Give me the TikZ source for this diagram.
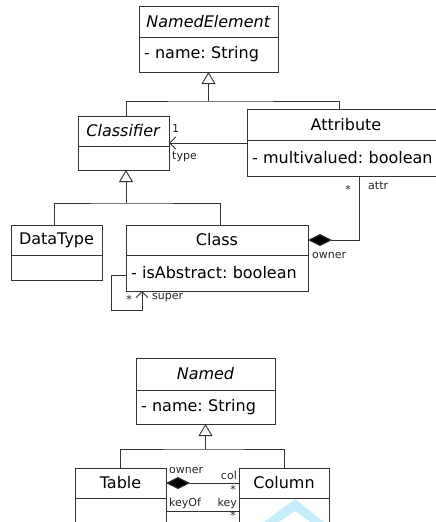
\documentclass[tikz,border=0pt]{standalone}
\usepackage{fontspec}
\setmainfont{DejaVu Sans}
\usetikzlibrary{arrows.meta,calc}

\tikzset{
  edge/.style={draw=black!80, line width=0.9pt},
  umlbox/.style={edge, inner sep=0pt, outer sep=0pt, anchor=north west,
                 font=\fontsize{16}{19}\selectfont\frenchspacing},
  hdr/.style={umlbox, align=center},
  cmp/.style={umlbox, inner xsep=5pt, align=left},
  gen/.style={edge, -{Triangle[open, length=12pt, width=14pt]}},
  nav/.style={edge, -{Straight Barb[length=6pt, width=12pt]}},
  comp/.style={edge, -{Diamond[length=24pt, width=12pt, fill=black]}},
  role/.style={font=\fontsize{11}{12}\selectfont, text=black!85, inner sep=0pt},
}

\begin{document}
\begin{tikzpicture}[x=1pt, y=-1pt]
  \useasboundingbox (0,0) rectangle (436,522);

  % faint chevron mark behind the Column box
  \fill[cyan!22!white]
    (264,522) -- (295,499) -- (324,522) -- (310,522) -- (295,511) -- (279,522) -- cycle;

  % ---------------- upper model ----------------
  \node[hdr, minimum width=139pt, minimum height=31pt] (ne1) at (139,6) {\textit{NamedElement}};
  \node[cmp, text width=129pt, minimum height=35pt] (ne2) at (ne1.south west) {- name: String};

  \node[hdr, minimum width=91pt, minimum height=30pt] (clf1) at (78,116) {\textit{Classifier}};
  \node[cmp, text width=81pt, minimum height=24pt] (clf2) at (clf1.south west) {};

  \node[hdr, minimum width=198pt, minimum height=31pt] (att1) at (247,109) {Attribute};
  \node[cmp, text width=188pt, minimum height=36pt] (att2) at (att1.south west) {- multivalued: boolean};

  \node[hdr, minimum width=91pt, minimum height=30pt] (dt1) at (11,225) {DataType};
  \node[cmp, text width=81pt, minimum height=25pt] (dt2) at (dt1.south west) {};

  \node[hdr, minimum width=182pt, minimum height=30pt] (cls1) at (126,225) {Class};
  \node[cmp, text width=172pt, minimum height=36pt] (cls2) at (cls1.south west) {- isAbstract: boolean};

  % generalisation to NamedElement
  \coordinate (j1) at (ne2.south |- 0,101);
  \draw[edge] ([xshift=2.5pt]clf1.north) |- (j1) -| ([xshift=-7pt]att1.north);
  \draw[gen] (j1) -- (ne2.south);

  % generalisation to Classifier
  \coordinate (j2) at ([xshift=2.5pt]clf2.south |- 0,203);
  \draw[edge] ([xshift=-2.5pt]dt1.north) |- (j2) -| ([xshift=3pt]cls1.north);
  \draw[gen] (j2) -- (j2 |- clf2.south);

  % Attribute --type--> Classifier
  \coordinate (t0) at ([yshift=-3pt]att2.north west);
  \draw[nav] (t0) -- (t0 -| clf1.east);
  \node[role, anchor=west] (m1) at (172,128) {1};
  \node[role, anchor=west] (r1) at (172,157) {type};

  % Class owns Attribute (composition)
  \coordinate (a0) at ([xshift=112pt]att2.south west);
  \draw[comp] (a0) |- (cls1.east);
  \node[role, anchor=east] (m2) at (351,189) {*};
  \node[role, anchor=west] (r2) at (368,186) {attr};
  \node[role, anchor=west] (r3) at (312,255) {owner};

  % Class super association (self loop)
  \coordinate (s0) at ([yshift=-20pt]cls2.north west);
  \coordinate (s1) at ([xshift=16pt]cls2.south west);
  \draw[nav] (s0) -- ++(-15,0) |- ([yshift=-19pt]s1) -- (s1);
  \node[role, anchor=east] (m3) at (132,299) {*};
  \node[role, anchor=west] (r4) at (152,298) {super};

  % ---------------- lower model ----------------
  \node[hdr, minimum width=139pt, minimum height=32pt] (nm1) at (136,358) {\textit{Named}};
  \node[cmp, text width=129pt, minimum height=34pt] (nm2) at (nm1.south west) {- name: String};

  \node[hdr, minimum width=91pt, minimum height=30pt] (tb1) at (75,468) {Table};
  \node[cmp, text width=81pt, minimum height=24pt] (tb2) at (tb1.south west) {};

  \node[hdr, minimum width=90pt, minimum height=30pt] (co1) at (239,468) {Column};
  \node[cmp, text width=80pt, minimum height=24pt] (co2) at (co1.south west) {};

  % generalisation to Named
  \coordinate (j3) at (nm2.south |- 0,449);
  \draw[edge] ([xshift=-0.5pt]tb1.north) |- (j3) -| (co1.north);
  \draw[gen] (j3) -- (nm2.south);

  % Table owns Column (composition)
  \draw[comp] (co1.west) -- (co1.west -| tb1.east);
  \node[role, anchor=west] (r5) at (169,470) {owner};
  \node[role, anchor=east] (r6) at (237,475) {col};
  \node[role, anchor=east] (m4) at (236,489) {*};

  % Column key of Table
  \coordinate (k0) at ([yshift=-13pt]tb2.north east);
  \draw[edge] (k0) -- (k0 -| co2.west);
  \node[role, anchor=west] (r7) at (169,503) {keyOf};
  \node[role, anchor=east] (r8) at (237,503) {key};
  \node[role, anchor=east] (m5) at (236,515) {*};
\end{tikzpicture}
\end{document}
